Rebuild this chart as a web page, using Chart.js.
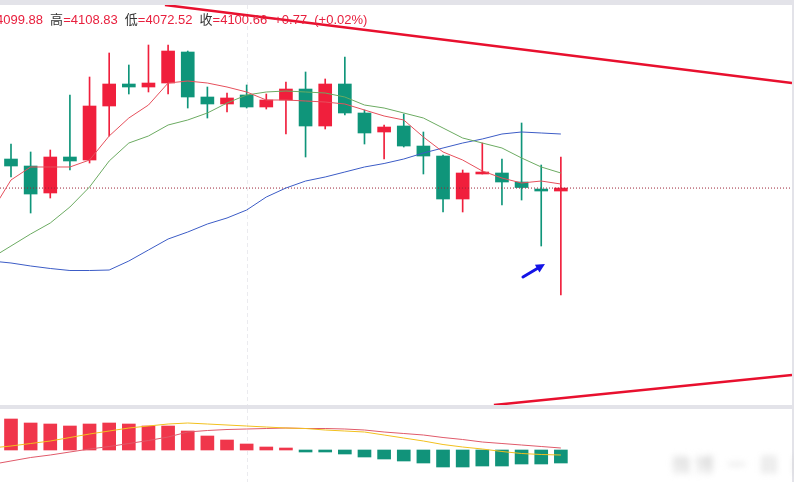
<!DOCTYPE html>
<html>
<head>
<meta charset="utf-8">
<script src="https://cdn.jsdelivr.net/npm/chart.js@4.4.0/dist/chart.umd.min.js"></script>
<style>
    body {
        margin: 0;
        width: 794px;
        height: 482px;
        overflow: hidden;
        position: relative;
        background: #e3e3e9;
        font-family: "Liberation Sans", Arial, "Noto Sans CJK SC", sans-serif;
    }
    .panel {
        position: absolute;
        left: 0;
        width: 792px;
        background: #fff;
    }
    #mainPanel { top: 5px; height: 400px; }
    #macdPanel { top: 409px; height: 73px; }
    .header {
        position: absolute;
        top: 11px;
        left: -4px;
        font-size: 13px;
        line-height: 18px;
        white-space: nowrap;
        word-spacing: 3.5px;
        color: #e8203e;
    }
    .header .k { color: #333; }
    .mark {
        position: absolute;
        left: 672px;
        top: 450px;
        font-size: 19px;
        color: #cfcfcf;
        filter: blur(3px);
        letter-spacing: 4px;
        white-space: nowrap;
    }
</style>
</head>
<body>
<div class="panel" id="mainPanel"><canvas id="chart" width="792" height="400"></canvas></div>
<div class="panel" id="macdPanel"><canvas id="macd" width="792" height="73"></canvas></div>
<div class="header">4099.88 <span class="k">高</span>=4108.83 <span class="k">低</span>=4072.52 <span class="k">收</span>=4100.66 +0.77 (+0.02%)</div>
<div class="mark">微博 一 目 目 目</div>
<script>
// candle index (x) and OHLC
const candleX = [0, 1, 2, 3, 4, 5, 6, 7, 8, 9, 10, 11, 12, 13, 14, 15, 16, 17, 18, 19, 20, 21, 22, 23, 24, 25, 26, 27, 28];
const openP = [4108.30, 4106.46, 4099.36, 4108.83, 4108.04, 4122.25, 4128.04, 4127.25, 4128.30, 4136.46, 4124.62, 4122.78, 4125.15, 4121.99, 4123.83, 4126.72, 4116.99, 4128.04, 4120.41, 4115.41, 4116.99, 4111.72, 4109.09, 4097.78, 4104.36, 4104.62, 4102.25, 4100.40, 4099.88];
const highP = [4112.25, 4110.15, 4110.67, 4125.15, 4129.88, 4136.20, 4133.04, 4138.30, 4138.30, 4136.72, 4127.25, 4125.67, 4127.78, 4125.41, 4128.57, 4131.20, 4129.36, 4135.15, 4121.20, 4117.25, 4120.15, 4115.41, 4109.35, 4105.41, 4112.51, 4108.30, 4117.78, 4106.72, 4108.83];
const lowP = [4103.57, 4094.09, 4098.04, 4105.41, 4107.25, 4114.36, 4125.41, 4125.94, 4125.41, 4121.72, 4119.09, 4120.67, 4121.72, 4121.46, 4114.88, 4108.83, 4116.20, 4119.88, 4112.25, 4108.30, 4111.46, 4104.36, 4094.36, 4094.36, 4104.36, 4096.20, 4097.51, 4085.41, 4072.52];
const closeP = [4106.46, 4099.09, 4108.83, 4107.78, 4122.25, 4128.04, 4127.25, 4128.30, 4136.72, 4124.62, 4122.78, 4124.36, 4121.99, 4123.83, 4126.72, 4116.99, 4128.04, 4120.41, 4115.15, 4116.72, 4111.72, 4109.09, 4097.78, 4104.62, 4104.88, 4102.25, 4100.80, 4099.88, 4100.66];

// moving averages start one bar before the first visible candle
const maX = [-1, 0, 1, 2, 3, 4, 5, 6, 7, 8, 9, 10, 11, 12, 13, 14, 15, 16, 17, 18, 19, 20, 21, 22, 23, 24, 25, 26, 27, 28];
const ma5 = [4094.36, 4102.78, 4106.20, 4106.20, 4106.20, 4108.04, 4114.36, 4119.09, 4122.51, 4128.30, 4128.83, 4128.30, 4127.25, 4125.94, 4123.83, 4123.83, 4123.57, 4123.30, 4122.78, 4121.20, 4119.62, 4118.57, 4114.09, 4110.15, 4108.04, 4105.15, 4103.30, 4101.99, 4102.51, 4101.72];
const ma10 = [4082.25, 4085.41, 4088.57, 4091.46, 4095.67, 4100.94, 4107.78, 4112.51, 4114.36, 4117.25, 4118.57, 4120.41, 4123.04, 4125.15, 4125.94, 4126.20, 4125.94, 4125.67, 4124.62, 4122.51, 4121.72, 4120.41, 4119.09, 4116.46, 4113.83, 4112.51, 4111.20, 4108.57, 4106.20, 4104.62];
const ma30 = [4081.46, 4080.94, 4080.15, 4079.49, 4078.96, 4078.96, 4079.09, 4081.46, 4084.36, 4087.25, 4089.09, 4091.20, 4092.78, 4094.88, 4098.30, 4100.67, 4102.51, 4103.57, 4104.88, 4106.20, 4107.12, 4108.30, 4109.88, 4111.20, 4112.51, 4113.57, 4114.88, 4115.41, 4115.15, 4114.88];

// drawn trend lines, current price line and the arrow
const upperLineX = [7.84, 39.77];
const upperLineY = [4148.83, 4128.30];
const lowerLineX = [24.59, 39.77];
const lowerLineY = [4043.57, 4051.46];
const lastPrice = 4100.66;
const arrowX = [26.07, 27.19];
const arrowY = [4077.25, 4080.67];
const guideIndex = 12;

// MACD panel
const macdHist = [3.1, 2.7, 2.6, 2.4, 2.6, 2.7, 2.6, 2.4, 2.4, 1.9, 1.4, 1.0, 0.6, 0.3, 0.2, -0.2, -0.2, -0.4, -0.7, -0.9, -1.1, -1.3, -1.7, -1.7, -1.6, -1.6, -1.4, -1.4, -1.3];
const macdDif = [0.2, 0.4, 0.65, 0.9, 1.25, 1.6, 1.9, 2.2, 2.4, 2.6, 2.7, 2.6, 2.5, 2.4, 2.3, 2.2, 2.15, 2.0, 1.9, 1.8, 1.5, 1.2, 0.9, 0.55, 0.3, 0.1, -0.15, -0.35, -0.45, -0.5];
const macdDea = [-1.45, -1.1, -0.75, -0.5, -0.2, 0.1, 0.35, 0.65, 0.95, 1.3, 1.8, 1.95, 2.05, 2.1, 2.15, 2.2, 2.15, 2.15, 2.1, 2.0, 1.8, 1.65, 1.5, 1.25, 1.05, 0.8, 0.65, 0.5, 0.35, 0.2];

const upColor = '#f01f3c';
const downColor = '#0f957a';

const pts = (xs, ys) => xs.map((x, i) => ({ x: x, y: ys[i] }));
const candleColor = candleX.map((x, i) => closeP[i] >= openP[i] ? upColor : downColor);

const guidePlugin = {
    id: 'guide',
    beforeDatasetsDraw(chart) {
        const ctx = chart.ctx;
        const area = chart.chartArea;
        const x = Math.round(chart.scales.x.getPixelForValue(guideIndex)) + 0.5;
        ctx.save();
        ctx.strokeStyle = '#ebebef';
        ctx.lineWidth = 1;
        ctx.setLineDash([4, 3]);
        ctx.beginPath();
        ctx.moveTo(x, area.top);
        ctx.lineTo(x, area.bottom);
        ctx.stroke();
        ctx.restore();
    }
};

const arrowPlugin = {
    id: 'arrow',
    afterDatasetsDraw(chart) {
        const ctx = chart.ctx;
        const x0 = chart.scales.x.getPixelForValue(arrowX[0]);
        const y0 = chart.scales.y.getPixelForValue(arrowY[0]);
        const x1 = chart.scales.x.getPixelForValue(arrowX[1]);
        const y1 = chart.scales.y.getPixelForValue(arrowY[1]);
        const ang = Math.atan2(y1 - y0, x1 - x0);
        ctx.save();
        ctx.strokeStyle = '#1414e6';
        ctx.fillStyle = '#1414e6';
        ctx.lineWidth = 3;
        ctx.lineCap = 'round';
        ctx.beginPath();
        ctx.moveTo(x0, y0);
        ctx.lineTo(x1 - 5 * Math.cos(ang), y1 - 5 * Math.sin(ang));
        ctx.stroke();
        ctx.beginPath();
        ctx.moveTo(x1, y1);
        ctx.lineTo(x1 - 9 * Math.cos(ang) + 4.5 * Math.sin(ang), y1 - 9 * Math.sin(ang) - 4.5 * Math.cos(ang));
        ctx.lineTo(x1 - 9 * Math.cos(ang) - 4.5 * Math.sin(ang), y1 - 9 * Math.sin(ang) + 4.5 * Math.cos(ang));
        ctx.closePath();
        ctx.fill();
        ctx.restore();
    }
};

const lineSet = (data, color, width) => ({
    type: 'line',
    data: data,
    borderColor: color,
    borderWidth: width,
    pointRadius: 0,
    tension: 0,
    fill: false
});

const flatScales = (yMin, yMax) => ({
    x: { type: 'linear', min: -0.56, max: 39.77, offset: false, bounds: 'ticks', display: false },
    y: { type: 'linear', min: yMin, max: yMax, display: false }
});

const commonOptions = (yMin, yMax) => ({
    responsive: false,
    animation: false,
    events: [],
    layout: { padding: 0 },
    plugins: { legend: { display: false }, tooltip: { enabled: false } },
    scales: flatScales(yMin, yMax)
});

new Chart(document.querySelector('#chart').getContext('2d'), {
    type: 'bar',
    data: {
        datasets: [
            lineSet(pts(upperLineX, upperLineY), '#e8102e', 2.5),
            lineSet(pts(lowerLineX, lowerLineY), '#e8102e', 2.5),
            lineSet(pts(maX, ma5), '#e6505c', 1),
            lineSet(pts(maX, ma10), '#6cab62', 1),
            lineSet(pts(maX, ma30), '#3c5cc6', 1),
            Object.assign(lineSet([{ x: -0.56, y: lastPrice }, { x: 39.77, y: lastPrice }], '#9c2236', 1), { borderDash: [1, 2] }),
            {
                type: 'bar',
                data: candleX.map((x, i) => ({ x: x, y: [openP[i], closeP[i]] })),
                backgroundColor: candleColor,
                barThickness: 13,
                minBarLength: 1,
                grouped: false
            },
            {
                type: 'bar',
                data: candleX.map((x, i) => ({ x: x, y: [lowP[i], highP[i]] })),
                backgroundColor: candleColor,
                barThickness: 1,
                grouped: false
            }
        ]
    },
    options: commonOptions(4043.57, 4148.83),
    plugins: [guidePlugin, arrowPlugin]
});

new Chart(document.querySelector('#macd').getContext('2d'), {
    type: 'bar',
    data: {
        datasets: [
            lineSet(pts(maX, macdDif), '#f2c01e', 1),
            lineSet(pts(maX, macdDea), '#e05a6a', 1),
            {
                type: 'bar',
                data: pts(candleX, macdHist),
                backgroundColor: macdHist.map(v => v >= 0 ? '#f0364b' : '#11937a'),
                barThickness: 13,
                minBarLength: 2,
                grouped: false
            }
        ]
    },
    options: commonOptions(-3.2, 4.1),
    plugins: [guidePlugin]
});
</script>
</body>
</html>
